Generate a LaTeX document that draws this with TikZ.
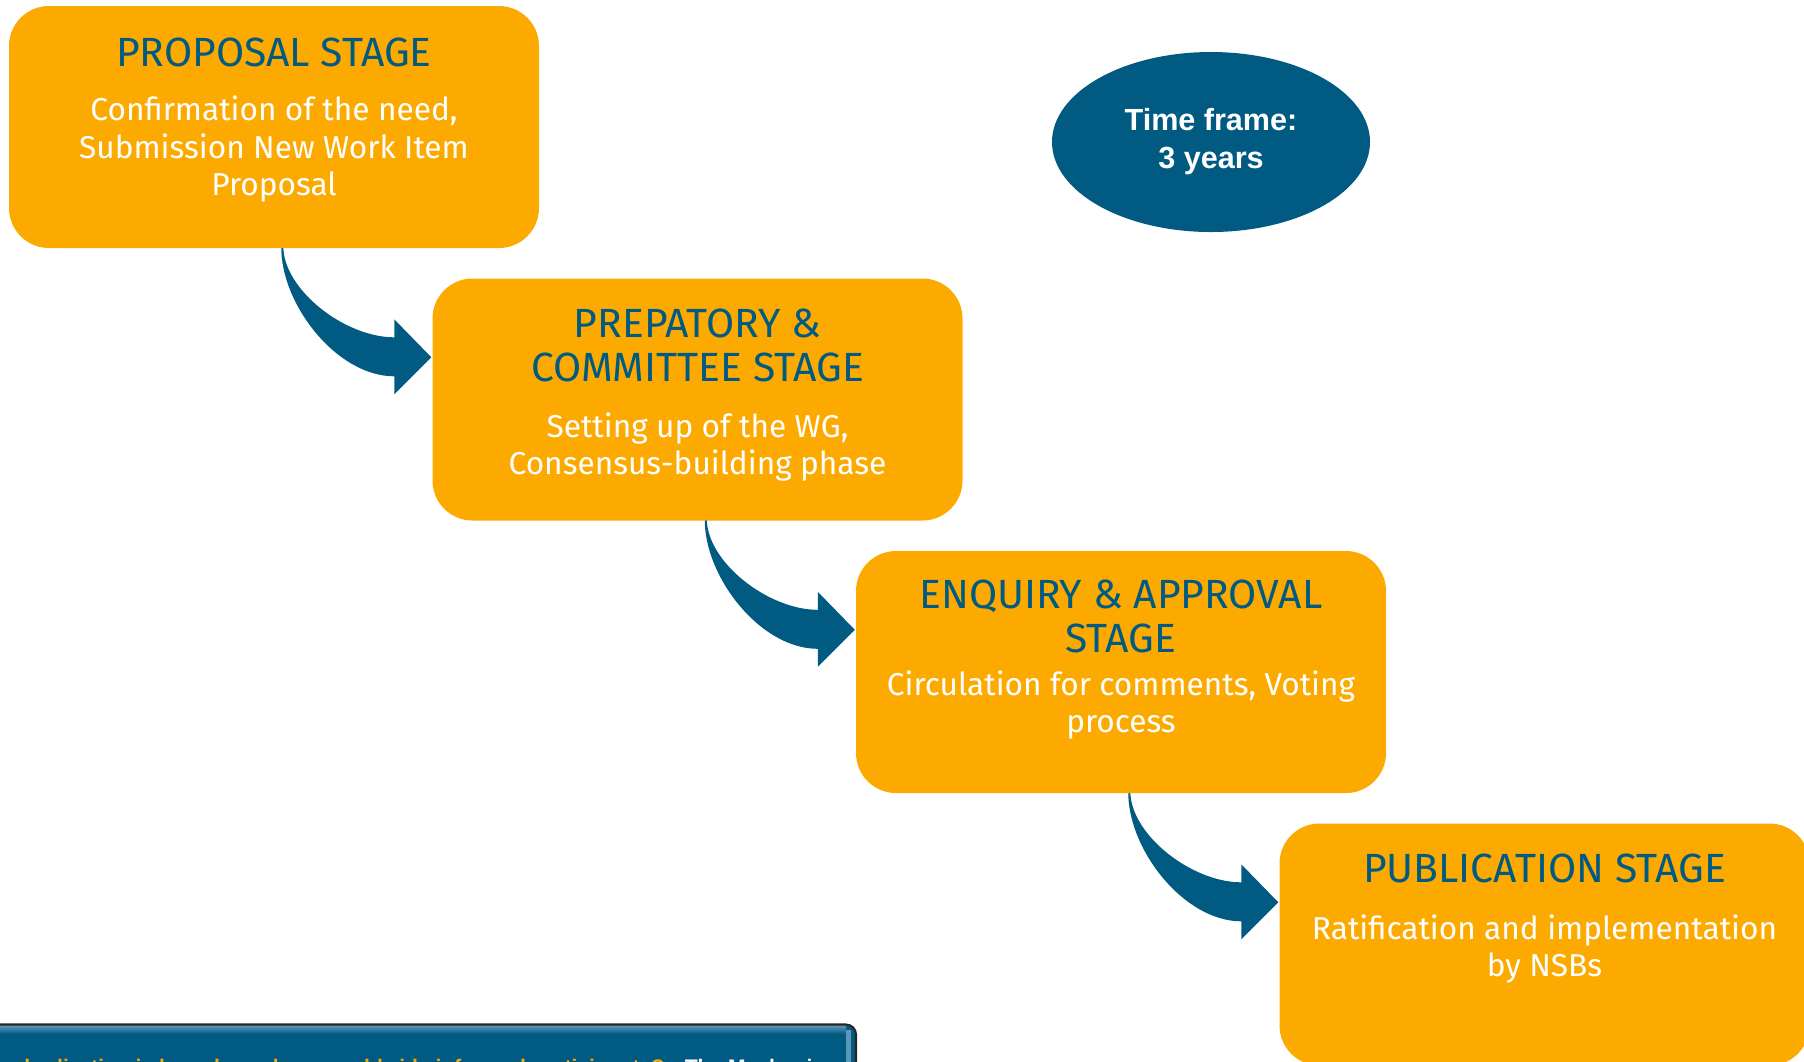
\documentclass[tikz,border=0pt]{standalone}
\usepackage{fontspec}
\setmainfont{Fira Sans}
\newfontfamily\arialfont{Liberation Sans}
\usepackage{xcolor}
\usetikzlibrary{backgrounds,positioning,calc,shapes.geometric}
\definecolor{isoorange}{HTML}{FCAA00}
\definecolor{isoblue}{HTML}{005A82}
\definecolor{bannerlight}{HTML}{5A96B8}

% bent arrow below a stage box, pointing at the next one
\newcommand{\bendarrow}[1]{%
	\fill[isoblue,shift={(#1.north west)}]
		(2.73,-2.30) -- (2.73,-2.41)
		.. controls (2.72,-2.98) and (3.28,-3.71) .. (3.86,-3.71)
		-- (3.86,-3.89) -- (4.23,-3.52) -- (3.86,-3.14) -- (3.86,-3.32)
		.. controls (3.36,-3.32) and (2.75,-2.84) .. (2.75,-2.41)
		-- (2.75,-2.30) -- cycle;}

\begin{document}
\begin{tikzpicture}[
	stagebox/.style={fill=isoorange,rounded corners=0.4cm,minimum width=5.3cm,minimum height=2.42cm,inner sep=0pt},
	titletext/.style={text=isoblue,font=\fontsize{11.6}{12.5}\selectfont,align=center,inner sep=0pt,anchor=base},
	bodytext/.style={text=white,font=\fontsize{9.0}{10.6}\selectfont,align=center,inner sep=0pt,anchor=base}]
	\useasboundingbox (0,0) rectangle (18.04,-10.61);
	\clip (0,0) rectangle (18.04,-10.61);
	\draw[draw=none]
		(2.74,-1.27) node[stagebox](s1){}
		($(s1)+(4.235,-2.725)$) node[stagebox](s2){}
		($(s2)+(4.235,-2.725)$) node[stagebox](s3){}
		($(s3)+(4.235,-2.725)$) node[stagebox](s4){};
	\begin{scope}[on background layer]
		\bendarrow{s1}
		\bendarrow{s2}
		\bendarrow{s3}
	\end{scope}
	% base of a multi-line node is the baseline of its last line
	\draw
		($(s1.north)+(0,-0.61)$) node[titletext](t1){PROPOSAL STAGE}
		($(s1.north)+(0,-1.90)$) node[bodytext](b1){Confirmation of the need,\\Submission New Work Item\\Proposal}
		($(s2.north)+(0,-1.04)$) node[titletext](t2){PREPATORY \&\\COMMITTEE STAGE}
		($(s2.north)+(0,-1.97)$) node[bodytext](b2){Setting up of the WG,\\Consensus-building phase}
		($(s3.north)+(0,-1.02)$) node[titletext](t3){ENQUIRY \& APPROVAL\\STAGE}
		($(s3.north)+(0,-1.82)$) node[bodytext](b3){Circulation for comments, Voting\\process}
		($(s4.north)+(0,-0.60)$) node[titletext](t4){PUBLICATION STAGE}
		($(s4.north)+(0,-1.54)$) node[bodytext](b4){Ratification and implementation\\by NSBs};
	\node[ellipse,fill=isoblue,minimum width=3.18cm,minimum height=1.8cm,inner sep=0pt,
		text=white,align=center,font=\arialfont\bfseries\fontsize{8.7}{10.8}\selectfont]
		(frame) at (12.11,-1.42) {Time frame:\\3 years};
	% banner at the bottom, cut off by the page
	\fill[isoblue,rounded corners=0.1cm] (-0.1,-10.8) |- (8.56,-10.245) -- (8.56,-10.8);
	\shade[top color=bannerlight,bottom color=isoblue] (-0.1,-10.255) rectangle (8.46,-10.34);
	\fill[bannerlight] (8.46,-10.30) rectangle (8.51,-10.8);
	\draw[black!85,line width=0.6pt,rounded corners=0.1cm] (-0.1,-10.245) -| (8.56,-10.8);
	\node[anchor=base west,inner sep=0pt,text=white,font=\arialfont\bfseries\fontsize{6}{7}\selectfont]
		(banner) at (-0.29,-10.74) {\textcolor{isoorange}{Standardization is how do we have worldwide informed participants? -} The Mechanism};
\end{tikzpicture}
\end{document}
